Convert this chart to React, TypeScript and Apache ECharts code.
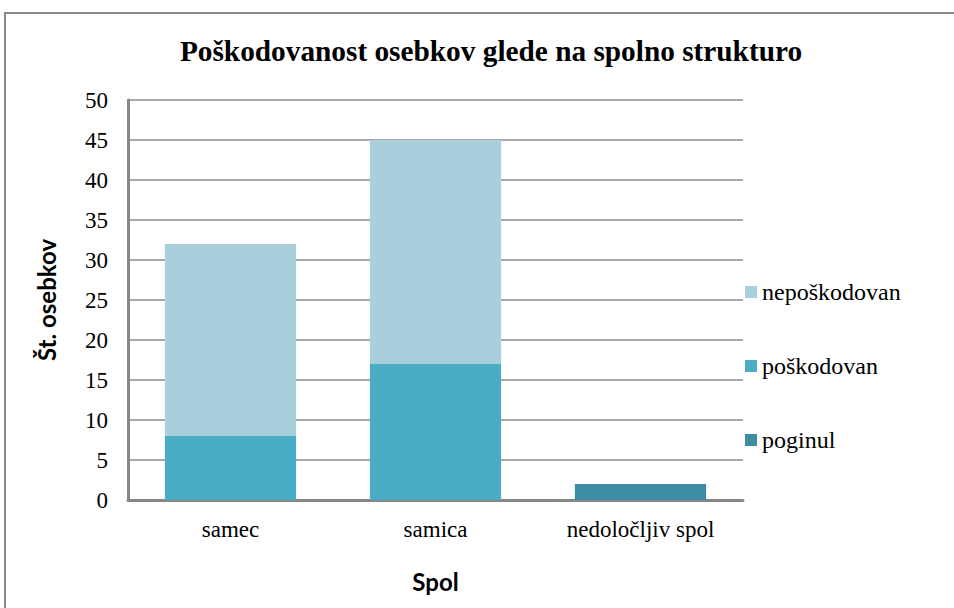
import React, { useEffect, useRef } from "react";
import * as echarts from "echarts";

const categories = ["samec", "samica", "nedoločljiv spol"];
const poginul = [0, 0, 2];
const poskodovan = [8, 17, 0];
const neposkodovan = [24, 28, 0];
const legendOrder = ["nepoškodovan", "poškodovan", "poginul"];
const titleText = "Poškodovanost osebkov glede na spolno strukturo";

const serif = "Liberation Serif";
const sans = "Lato";

export default function App() {
  const ref = useRef<HTMLDivElement>(null);
  useEffect(() => {
    document.body.style.margin = "0";
    const chart = echarts.init(ref.current!, null, { renderer: "svg" });
    const toData = (arr: number[]) => arr.map((v) => (v === 0 ? null : v));
    chart.setOption({
      animation: false,
      backgroundColor: "#fff",
      title: {
        text: titleText,
        left: 486,
        top: 31,
        textAlign: "center",
        textStyle: { fontFamily: serif, fontWeight: "bold", fontSize: 29.3, color: "#000" },
      },
      graphic: [
        {
          type: "rect",
          shape: { x: 5, y: 13, width: 1000, height: 700 },
          style: { fill: "none", stroke: "#8a8a8a", lineWidth: 2 },
          silent: true,
        },
      ],
      legend: {
        orient: "vertical",
        left: 745,
        top: 280,
        padding: 0,
        itemWidth: 12,
        itemHeight: 12,
        itemGap: 50,
        icon: "rect",
        data: legendOrder,
        textStyle: { fontFamily: serif, fontSize: 24, color: "#000", lineHeight: 24 },
      },
      grid: { left: 128, right: 211, top: 100, bottom: 108 },
      xAxis: {
        type: "category",
        data: categories,
        name: "Spol",
        nameLocation: "middle",
        nameGap: 69,
        nameTextStyle: { fontFamily: sans, fontWeight: "bold", fontSize: 24, color: "#000" },
        axisLine: { lineStyle: { color: "#868686", width: 3 } },
        axisTick: { show: false },
        axisLabel: { fontFamily: serif, fontSize: 23, color: "#000", margin: 18 },
      },
      yAxis: {
        type: "value",
        min: 0,
        max: 50,
        interval: 5,
        name: "Št. osebkov",
        nameLocation: "middle",
        nameGap: 70,
        nameTextStyle: { fontFamily: sans, fontWeight: "bold", fontSize: 24, color: "#000" },
        axisLine: { show: true, lineStyle: { color: "#868686", width: 3 } },
        axisTick: { show: false },
        axisLabel: { fontFamily: serif, fontSize: 23, color: "#000", margin: 20 },
        splitLine: { lineStyle: { color: "#8c8c8c", width: 1.5 } },
      },
      series: [
        {
          name: "poginul",
          type: "bar",
          stack: "total",
          barWidth: "64%",
          data: toData(poginul),
          itemStyle: { color: "#3C8DA4" },
        },
        {
          name: "poškodovan",
          type: "bar",
          stack: "total",
          barWidth: "64%",
          data: toData(poskodovan),
          itemStyle: { color: "#4BACC6" },
        },
        {
          name: "nepoškodovan",
          type: "bar",
          stack: "total",
          barWidth: "64%",
          data: toData(neposkodovan),
          itemStyle: { color: "#A9CFDC" },
        },
      ],
    });
    return () => chart.dispose();
  }, []);
  return <div ref={ref} style={{ width: 954, height: 608 }} />;
}
